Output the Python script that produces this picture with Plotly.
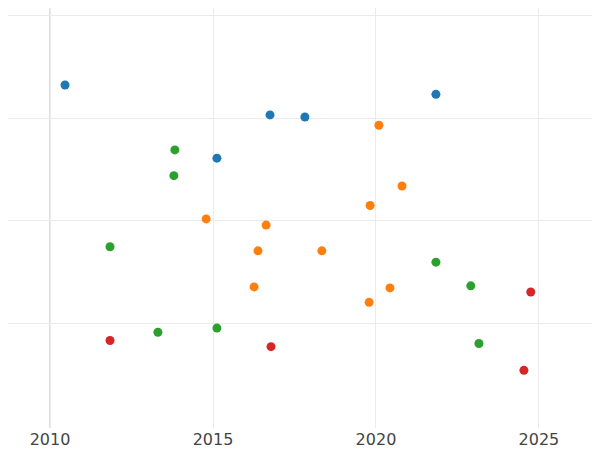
import plotly.graph_objects as go

blue_x = [2010.46, 2016.75, 2017.82, 2015.12, 2021.84]
blue_y = [3.32, 3.03, 3.01, 2.61, 3.23]
orange_x = [2020.09, 2020.80, 2019.82, 2014.79, 2016.63, 2016.38, 2018.34, 2016.26, 2020.43, 2019.79]
orange_y = [2.93, 2.34, 2.15, 2.02, 1.96, 1.71, 1.71, 1.36, 1.35, 1.21]
green_x = [2013.83, 2013.80, 2011.84, 2021.84, 2022.91, 2015.12, 2013.31, 2023.16]
green_y = [2.69, 2.44, 1.75, 1.60, 1.37, 0.96, 0.92, 0.81]
red_x = [2011.84, 2016.78, 2024.75, 2024.54]
red_y = [0.84, 0.78, 1.31, 0.55]

series = [(blue_x, blue_y, "#1f77b4"), (orange_x, orange_y, "#ff7f0e"),
          (green_x, green_y, "#2ca02c"), (red_x, red_y, "#d62728")]

fig = go.Figure()
for xs, ys, c in series:
    fig.add_trace(go.Scatter(x=xs, y=ys, mode="markers",
                             marker=dict(color=c, size=9), showlegend=False))

fig.update_layout(
    width=600, height=450, plot_bgcolor="white", paper_bgcolor="white",
    margin=dict(l=0, r=0, t=0, b=30),
    xaxis=dict(range=[2008.71, 2027.12], tickvals=[2010, 2015, 2020, 2025],
               showgrid=True, gridcolor="#ebebeb", zeroline=False,
               tickfont=dict(family="DejaVu Sans", size=16, color="#444")),
    yaxis=dict(range=[-0.01, 4.068], tickvals=[1, 2, 3, 4], showticklabels=False,
               showgrid=True, gridcolor="#ebebeb", zeroline=False),
)
fig.add_vline(x=2010, line=dict(color="#dddddd", width=2), layer="below")
fig.write_html("out.html")
